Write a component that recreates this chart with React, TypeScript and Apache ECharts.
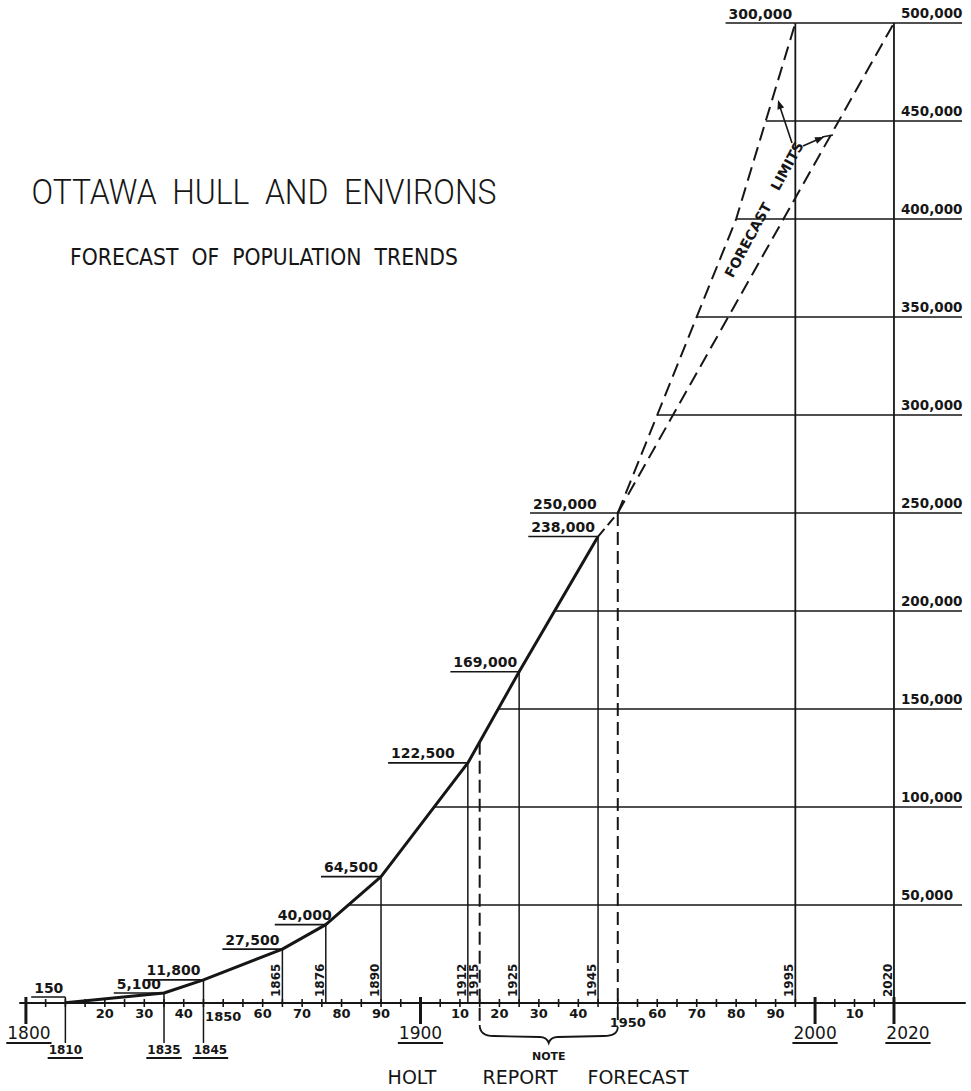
import React, { useEffect, useRef } from 'react';
import * as echarts from 'echarts';

// ---------------- data ----------------
const historicYears = [1810, 1835, 1845, 1865, 1876, 1890, 1912, 1925, 1945];
const historicPop = [150, 5100, 11800, 27500, 40000, 64500, 122500, 169000, 238000];
const historicLabels = ['150', '5,100', '11,800', '27,500', '40,000', '64,500', '122,500', '169,000', '238,000'];

const bridgeYears = [1945, 1950];
const bridgePop = [238000, 250000];

const upperYears = [1950, 1960, 1980, 1995];
const upperPop = [250000, 300000, 400000, 500000];

const lowerYears = [1950, 2020];
const lowerPop = [250000, 500000];

const forecastLabelYears = [1950, 1995];
const forecastLabelPop = [250000, 500000];
const forecastLabels = ['250,000', '300,000'];

const holtYears = [1915, 1950];

const limitLineYears = [1995, 2020];
const limitLinePop = [500000, 500000];

const gridLevels = [50000, 100000, 150000, 200000, 250000, 300000, 350000, 400000, 450000, 500000];
const gridLevelLabels = ['50,000', '100,000', '150,000', '200,000', '250,000', '300,000', '350,000', '400,000', '450,000', '500,000'];

const minorTickYears = [
  1805, 1810, 1815, 1820, 1825, 1830, 1835, 1840, 1845, 1850, 1855, 1860, 1865, 1870, 1875, 1880, 1885, 1890, 1895,
  1905, 1910, 1915, 1920, 1925, 1930, 1935, 1940, 1945, 1950, 1955, 1960, 1965, 1970, 1975, 1980, 1985, 1990, 1995,
  2005, 2010, 2015,
];
const majorTickYears = [1800, 1900, 2000, 2020];

const axisLabelYears = [1820, 1830, 1840, 1850, 1860, 1870, 1880, 1890, 1910, 1920, 1930, 1940, 1950, 1960, 1970, 1980, 1990, 2010];
const axisLabelTexts = ['20', '30', '40', '1850', '60', '70', '80', '90', '10', '20', '30', '40', '1950', '60', '70', '80', '90', '10'];

const underlinedYears = [1800, 1810, 1835, 1845, 1900, 2000, 2020];
const rotatedYears = [1865, 1876, 1890, 1912, 1915, 1925, 1945, 1995, 2020];

// ---------------- styles / layout ----------------
const INK = '#161616';
const X_MIN = 1798.5;
const X_MAX = 2038;
const VALUE_FONT = 'bold 14px "DejaVu Sans"';
const RIGHT_FONT = 'bold 13.5px "DejaVu Sans"';
const TICK_FONT = 'bold 13px "DejaVu Sans"';
const ROT_FONT = 'bold 12px "DejaVu Sans"';
const BIG_YEAR_FONT = '17px "DejaVu Sans"';
const SMALL_YEAR_FONT = 'bold 12px "DejaVu Sans"';
const bigYears = [1800, 1900, 2000, 2020];
const labelGap: Record<string, number> = { '150': 2, '122,500': 13, '250,000': 21, '40,000': -6, '169,000': 2 };
const underlinedShift: Record<number, number> = { 1800: 3, 1845: 7, 2020: 14 };
const axisLabelShift: Record<number, [number, number]> = { 1850: [0, 3], 1950: [10, 9] };
const longDrops = [1810, 1835, 1845];

// ---------------- helpers ----------------
const envYears = [...historicYears, ...upperYears];
const envPop = [...historicPop, ...upperPop];

function interpYear(xs: number[], ys: number[], level: number) {
  for (let i = 0; i < ys.length - 1; i++) {
    if (level >= ys[i] && level <= ys[i + 1]) {
      return xs[i] + ((level - ys[i]) / (ys[i + 1] - ys[i])) * (xs[i + 1] - xs[i]);
    }
  }
  return xs[xs.length - 1];
}
function interpPop(xs: number[], ys: number[], year: number) {
  for (let i = 0; i < xs.length - 1; i++) {
    if (year >= xs[i] && year <= xs[i + 1]) {
      return ys[i] + ((year - xs[i]) / (xs[i + 1] - xs[i])) * (ys[i + 1] - ys[i]);
    }
  }
  return ys[ys.length - 1];
}

let measureCtx: CanvasRenderingContext2D | null = null;
function textWidth(text: string, font: string) {
  if (!measureCtx) measureCtx = document.createElement('canvas').getContext('2d');
  if (!measureCtx) return text.length * 8;
  measureCtx.font = font;
  return measureCtx.measureText(text).width;
}

function arrowHead(tip: [number, number], from: [number, number], len = 9, half = 3.5) {
  const dx = tip[0] - from[0];
  const dy = tip[1] - from[1];
  const d = Math.sqrt(dx * dx + dy * dy) || 1;
  const ux = dx / d, uy = dy / d;
  const bx = tip[0] - ux * len, by = tip[1] - uy * len;
  return {
    type: 'polygon',
    shape: { points: [tip, [bx - uy * half, by + ux * half], [bx + uy * half, by - ux * half]] },
    style: { fill: INK },
  };
}

const allLabelYears = [...historicYears, ...forecastLabelYears];
const allLabelPop = [...historicPop, ...forecastLabelPop];
const allLabelTexts = [...historicLabels, ...forecastLabels];

function buildOption(): any {
  const titleFont = '300 35px Roboto';
  const subFont = '23px "DejaVu Sans"';
  const titleText = 'OTTAWA  HULL  AND  ENVIRONS';
  const subText = 'FORECAST  OF  POPULATION  TRENDS';
  const titleScale = 465 / textWidth(titleText, titleFont);
  const subScale = 388 / textWidth(subText, subFont);
  const limAngle = (61.7 * Math.PI) / 180;

  const seriesBase = { type: 'custom', coordinateSystem: 'cartesian2d', clip: false, silent: true, encode: { x: 0, y: 1 } };

  return {
    animation: false,
    backgroundColor: '#ffffff',
    grid: { left: 20, right: 6, top: 23, bottom: 88, containLabel: false },
    xAxis: {
      type: 'value', min: X_MIN, max: X_MAX,
      axisLine: { show: true, onZero: true, lineStyle: { color: INK, width: 2 } },
      axisTick: { show: false }, axisLabel: { show: false }, splitLine: { show: false },
    },
    yAxis: { type: 'value', min: 0, max: 500000, show: false, splitLine: { show: false } },
    graphic: [
      { type: 'text', x: 264, y: 192, scaleX: titleScale, style: { text: titleText, font: titleFont, fill: INK, align: 'center', verticalAlign: 'middle' } },
      { type: 'text', x: 264, y: 257, scaleX: subScale, style: { text: subText, font: subFont, fill: INK, align: 'center', verticalAlign: 'middle' } },
      { type: 'text', x: 412, y: 1077, style: { text: 'HOLT', font: '19px "DejaVu Sans"', fill: INK, align: 'center', verticalAlign: 'middle' } },
      { type: 'text', x: 520, y: 1077, style: { text: 'REPORT', font: '19px "DejaVu Sans"', fill: INK, align: 'center', verticalAlign: 'middle' } },
      { type: 'text', x: 638, y: 1077, style: { text: 'FORECAST', font: '19px "DejaVu Sans"', fill: INK, align: 'center', verticalAlign: 'middle' } },
      { type: 'text', x: 748, y: 240, rotation: limAngle, style: { text: 'FORECAST', font: 'bold 14px "DejaVu Sans"', fill: INK, align: 'center', verticalAlign: 'middle' } },
      { type: 'text', x: 787, y: 166, rotation: limAngle, style: { text: 'LIMITS', font: 'bold 14px "DejaVu Sans"', fill: INK, align: 'center', verticalAlign: 'middle' } },
      { type: 'line', shape: { x1: 792, y1: 143, x2: 779, y2: 104 }, style: { stroke: INK, lineWidth: 1.6 } },
      arrowHead([778, 100], [792, 143]),
      { type: 'line', shape: { x1: 803, y1: 146, x2: 821, y2: 138 }, style: { stroke: INK, lineWidth: 1.6 } },
      arrowHead([824, 137], [803, 146]),
      { type: 'line', shape: { x1: 822, y1: 137, x2: 833, y2: 135 }, style: { stroke: INK, lineWidth: 1.6 } },
    ],
    series: [
      // horizontal grid lines with right-hand labels
      {
        ...seriesBase, z: 1,
        data: gridLevels.map((lv, i) => [interpYear(envYears, envPop, lv), lv, i]),
        renderItem: (params: any, api: any) => {
          const lv = api.value(1);
          const i = api.value(2);
          const p0 = api.coord([api.value(0), lv]);
          const p1 = api.coord([X_MAX, lv]);
          const pl = api.coord([2020, lv]);
          return {
            type: 'group',
            children: [
              { type: 'line', shape: { x1: p0[0], y1: p0[1], x2: p1[0] - 3, y2: p1[1] }, style: { stroke: INK, lineWidth: 1.6 } },
              { type: 'text', x: pl[0] + 7, y: pl[1] - 10, style: { text: gridLevelLabels[i], font: RIGHT_FONT, fill: INK, align: 'left', verticalAlign: 'middle' } },
            ],
          };
        },
      },
      // drop lines from historic points
      {
        ...seriesBase, z: 2,
        data: historicYears.map((y, i) => [y, historicPop[i], i]),
        renderItem: (params: any, api: any) => {
          const yr = api.value(0);
          const p = api.coord([yr, api.value(1)]);
          const base = api.coord([yr, 0]);
          const top = Math.min(p[1], base[1] - 6);
          const bottom = longDrops.indexOf(yr) >= 0 ? base[1] + 40 : base[1];
          return { type: 'line', shape: { x1: p[0], y1: top, x2: p[0], y2: bottom }, style: { stroke: INK, lineWidth: 1.5 } };
        },
      },
      // forecast limit verticals
      {
        ...seriesBase, z: 2,
        data: limitLineYears.map((y, i) => [y, limitLinePop[i]]),
        renderItem: (params: any, api: any) => {
          const p = api.coord([api.value(0), api.value(1)]);
          const base = api.coord([api.value(0), 0]);
          return { type: 'line', shape: { x1: p[0], y1: p[1], x2: p[0], y2: base[1] }, style: { stroke: INK, lineWidth: 1.8 } };
        },
      },
      // Holt report dashed verticals
      {
        ...seriesBase, z: 2,
        data: holtYears.map((y) => [y, interpPop(envYears, envPop, y)]),
        renderItem: (params: any, api: any) => {
          const p = api.coord([api.value(0), api.value(1)]);
          const base = api.coord([api.value(0), 0]);
          return { type: 'line', shape: { x1: p[0], y1: p[1], x2: p[0], y2: base[1] + 23 }, style: { stroke: INK, lineWidth: 2, lineDash: [13, 6] } };
        },
      },
      // brace + NOTE
      {
        ...seriesBase, z: 2, encode: { x: [0, 1] },
        data: [[holtYears[0], holtYears[1]]],
        renderItem: (params: any, api: any) => {
          const a = api.coord([api.value(0), 0]);
          const b = api.coord([api.value(1), 0]);
          const x1 = a[0], x2 = b[0], y0 = a[1];
          const mid = (x1 + x2) / 2;
          const d = `M${x1},${y0 + 22} Q${x1},${y0 + 33} ${x1 + 14},${y0 + 33} L${mid - 9},${y0 + 34} Q${mid - 2},${y0 + 34} ${mid},${y0 + 40} Q${mid + 2},${y0 + 34} ${mid + 9},${y0 + 34} L${x2 - 14},${y0 + 33} Q${x2},${y0 + 33} ${x2},${y0 + 24}`;
          return {
            type: 'group',
            children: [
              { type: 'path', shape: { pathData: d }, style: { stroke: INK, fill: 'none', lineWidth: 1.8 } },
              { type: 'text', x: mid, y: y0 + 53, style: { text: 'NOTE', font: 'bold 11px "DejaVu Sans"', fill: INK, align: 'center', verticalAlign: 'middle' } },
            ],
          };
        },
      },
      // historic curve
      {
        type: 'line', z: 5, silent: true, symbol: 'none',
        data: historicYears.map((y, i) => [y, historicPop[i]]),
        lineStyle: { color: INK, width: 3 },
      },
      {
        type: 'line', z: 5, silent: true, symbol: 'none',
        data: bridgeYears.map((y, i) => [y, bridgePop[i]]),
        lineStyle: { color: INK, width: 2, type: [10, 5] },
      },
      {
        type: 'line', z: 5, silent: true, symbol: 'none',
        data: upperYears.map((y, i) => [y, upperPop[i]]),
        lineStyle: { color: INK, width: 2, type: [14, 7] },
      },
      {
        type: 'line', z: 5, silent: true, symbol: 'none',
        data: lowerYears.map((y, i) => [y, lowerPop[i]]),
        lineStyle: { color: INK, width: 2, type: [14, 7] },
      },
      // underlined value labels
      {
        ...seriesBase, z: 6,
        data: allLabelYears.map((y, i) => [y, allLabelPop[i], i]),
        renderItem: (params: any, api: any) => {
          const i = api.value(2);
          const p = api.coord([api.value(0), api.value(1)]);
          const base = api.coord([api.value(0), 0]);
          const ly = Math.min(p[1], base[1] - 6);
          const text = allLabelTexts[i];
          const gap = labelGap[text] !== undefined ? labelGap[text] : 3;
          const w = textWidth(text, VALUE_FONT);
          const right = p[0] - gap;
          const left = right - w;
          return {
            type: 'group',
            children: [
              { type: 'line', shape: { x1: left - 3, y1: ly, x2: p[0], y2: ly }, style: { stroke: INK, lineWidth: 1.6 } },
              { type: 'text', x: right, y: ly - 9.5, style: { text, font: VALUE_FONT, fill: INK, align: 'right', verticalAlign: 'middle' } },
            ],
          };
        },
      },
      // minor ticks
      {
        ...seriesBase, z: 6,
        data: minorTickYears.map((y) => [y, 0]),
        renderItem: (params: any, api: any) => {
          const p = api.coord([api.value(0), 0]);
          return { type: 'line', shape: { x1: p[0], y1: p[1] - 4, x2: p[0], y2: p[1] + 4 }, style: { stroke: INK, lineWidth: 1.6 } };
        },
      },
      // major ticks
      {
        ...seriesBase, z: 6,
        data: majorTickYears.map((y) => [y, 0]),
        renderItem: (params: any, api: any) => {
          const p = api.coord([api.value(0), 0]);
          return { type: 'line', shape: { x1: p[0], y1: p[1] - 6, x2: p[0], y2: p[1] + 21 }, style: { stroke: INK, lineWidth: 3 } };
        },
      },
      // axis tick labels
      {
        ...seriesBase, z: 6,
        data: axisLabelYears.map((y, i) => [y, 0, i]),
        renderItem: (params: any, api: any) => {
          const yr = api.value(0);
          const i = api.value(2);
          const p = api.coord([yr, 0]);
          const sh = axisLabelShift[yr] || [0, 0];
          return { type: 'text', x: p[0] + sh[0], y: p[1] + 10 + sh[1], style: { text: axisLabelTexts[i], font: TICK_FONT, fill: INK, align: 'center', verticalAlign: 'middle' } };
        },
      },
      // underlined year labels
      {
        ...seriesBase, z: 6,
        data: underlinedYears.map((y) => [y, 0]),
        renderItem: (params: any, api: any) => {
          const yr = api.value(0);
          const p = api.coord([yr, 0]);
          const big = bigYears.indexOf(yr) >= 0;
          const font = big ? BIG_YEAR_FONT : SMALL_YEAR_FONT;
          const text = String(yr);
          const w = textWidth(text, font);
          const cx = p[0] + (underlinedShift[yr] || 0);
          const cy = p[1] + (big ? 30 : 47);
          const uy = p[1] + (big ? 40 : 55);
          return {
            type: 'group',
            children: [
              { type: 'text', x: cx, y: cy, style: { text, font, fill: INK, align: 'center', verticalAlign: 'middle' } },
              { type: 'line', shape: { x1: cx - w / 2 - 1, y1: uy, x2: cx + w / 2 + 1, y2: uy }, style: { stroke: INK, lineWidth: 1.8 } },
            ],
          };
        },
      },
      // rotated year labels along drop lines
      {
        ...seriesBase, z: 6,
        data: rotatedYears.map((y) => [y, 0]),
        renderItem: (params: any, api: any) => {
          const yr = api.value(0);
          const p = api.coord([yr, 0]);
          return {
            type: 'text', x: p[0] - 6, y: p[1] - 6, rotation: Math.PI / 2,
            style: { text: String(yr), font: ROT_FONT, fill: INK, align: 'left', verticalAlign: 'middle' },
          };
        },
      },
    ],
  };
}

export default function App() {
  const ref = useRef<HTMLDivElement>(null);
  useEffect(() => {
    if (!ref.current) return;
    const chart = echarts.init(ref.current, null, { renderer: 'svg' });
    chart.setOption(buildOption());
    return () => {
      chart.dispose();
    };
  }, []);
  return (
    <div
      ref={ref}
      style={{ position: 'absolute', left: 0, top: 0, width: 971, height: 1091, background: '#ffffff' }}
    />
  );
}
